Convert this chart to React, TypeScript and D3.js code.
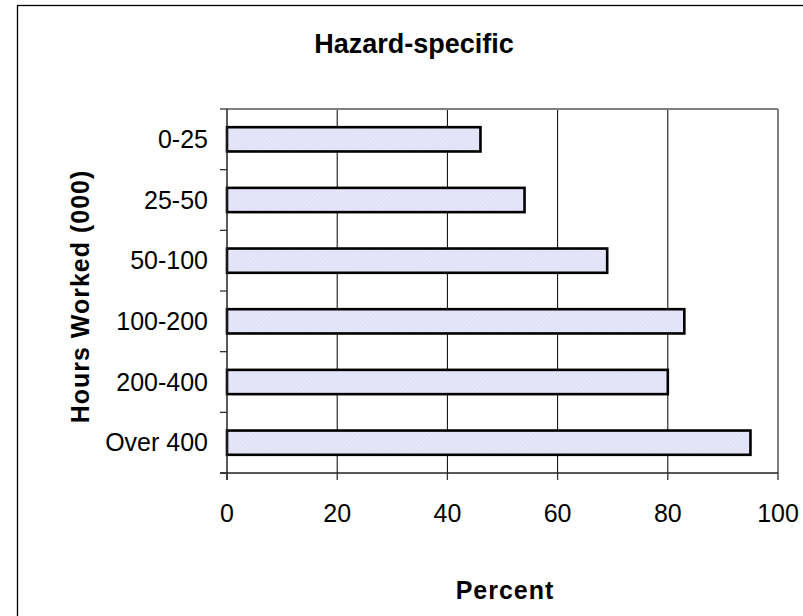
import React from "react";
import * as d3 from "d3";

const categories: string[] = ["0-25", "25-50", "50-100", "100-200", "200-400", "Over 400"];
const values: number[] = [46, 54, 69, 83, 80, 95];
const xTicks: number[] = [0, 20, 40, 60, 80, 100];
const titleText = "Hazard-specific";
const xTitle = "Percent";
const yTitle = "Hours Worked (000)";

const W = 803;
const H = 616;
const plot = { left: 227, right: 778, top: 109, bottom: 473 };
const FONT = "'Liberation Sans', Arial, Helvetica, sans-serif";

export default function App() {
  const x = d3.scaleLinear().domain([0, 100]).range([plot.left, plot.right]);
  const y = d3
    .scaleBand<string>()
    .domain(categories)
    .range([plot.top, plot.bottom])
    .paddingInner(0.6)
    .paddingOuter(0.3);
  const step = y.step();
  const boundaries = d3.range(categories.length + 1).map((i) => plot.top + i * step);

  return (
    <svg
      width={W}
      height={H}
      style={{ position: "absolute", left: 0, top: 0, background: "#fff" }}
      fontFamily={FONT}
    >
      <defs>
        <pattern id="hatch" width="3" height="3" patternUnits="userSpaceOnUse" patternTransform="rotate(45)">
          <rect width="3" height="3" fill="#E6E6FA" />
          <line x1="0" y1="0" x2="0" y2="3" stroke="#D6D6F0" strokeWidth="1" />
        </pattern>
      </defs>
      <rect x={0} y={0} width={W} height={H} fill="#fff" />
      {/* outer chart border */}
      <rect x={17.5} y={5.5} width={W + 20} height={H + 20} fill="none" stroke="#000" strokeWidth={1.3} />

      {/* title */}
      <text x={414} y={53} textAnchor="middle" fontSize={27} fontWeight="bold" fill="#000">
        {titleText}
      </text>

      {/* gridlines */}
      {xTicks
        .filter((t) => t > 0 && t < 100)
        .map((t) => (
          <line key={"g" + t} x1={x(t)} x2={x(t)} y1={plot.top} y2={plot.bottom} stroke="#000" strokeWidth={1} />
        ))}

      {/* plot border top/right */}
      <line x1={plot.left} x2={plot.right} y1={plot.top} y2={plot.top} stroke="#808080" strokeWidth={2} />
      <line x1={plot.right} x2={plot.right} y1={plot.top} y2={plot.bottom} stroke="#808080" strokeWidth={2} />

      {/* bars */}
      {categories.map((c, i) => (
        <rect
          key={c}
          x={x(0)}
          y={y(c)!}
          width={x(values[i]) - x(0)}
          height={y.bandwidth()}
          fill="url(#hatch)"
          stroke="#000"
          strokeWidth={2.6}
        />
      ))}

      {/* y axis */}
      <line x1={plot.left} x2={plot.left} y1={plot.top} y2={plot.bottom + 7} stroke="#222" strokeWidth={1.5} />
      {boundaries.map((b, i) => (
        <line key={"yt" + i} x1={plot.left - 7} x2={plot.left} y1={b} y2={b} stroke="#333" strokeWidth={1.3} />
      ))}
      {categories.map((c) => (
        <text
          key={"yl" + c}
          x={208}
          y={y(c)! + y.bandwidth() / 2 + 8.5}
          textAnchor="end"
          fontSize={25}
          fill="#000"
        >
          {c}
        </text>
      ))}

      {/* x axis */}
      <line x1={plot.left - 7} x2={plot.right} y1={plot.bottom} y2={plot.bottom} stroke="#222" strokeWidth={1.5} />
      {xTicks.map((t) => (
        <g key={"xt" + t}>
          <line x1={x(t)} x2={x(t)} y1={plot.bottom} y2={plot.bottom + 7} stroke="#333" strokeWidth={1.3} />
          <text x={x(t)} y={522} textAnchor="middle" fontSize={25} fill="#000">
            {t}
          </text>
        </g>
      ))}

      {/* axis titles */}
      <text x={505} y={599} textAnchor="middle" fontSize={25} fontWeight="bold" letterSpacing={1} fill="#000">
        {xTitle}
      </text>
      <text
        transform={`translate(88.5, 296.5) rotate(-90)`}
        textAnchor="middle"
        fontSize={25}
        fontWeight="bold"
        letterSpacing={1}
        fill="#000"
      >
        {yTitle}
      </text>
    </svg>
  );
}
